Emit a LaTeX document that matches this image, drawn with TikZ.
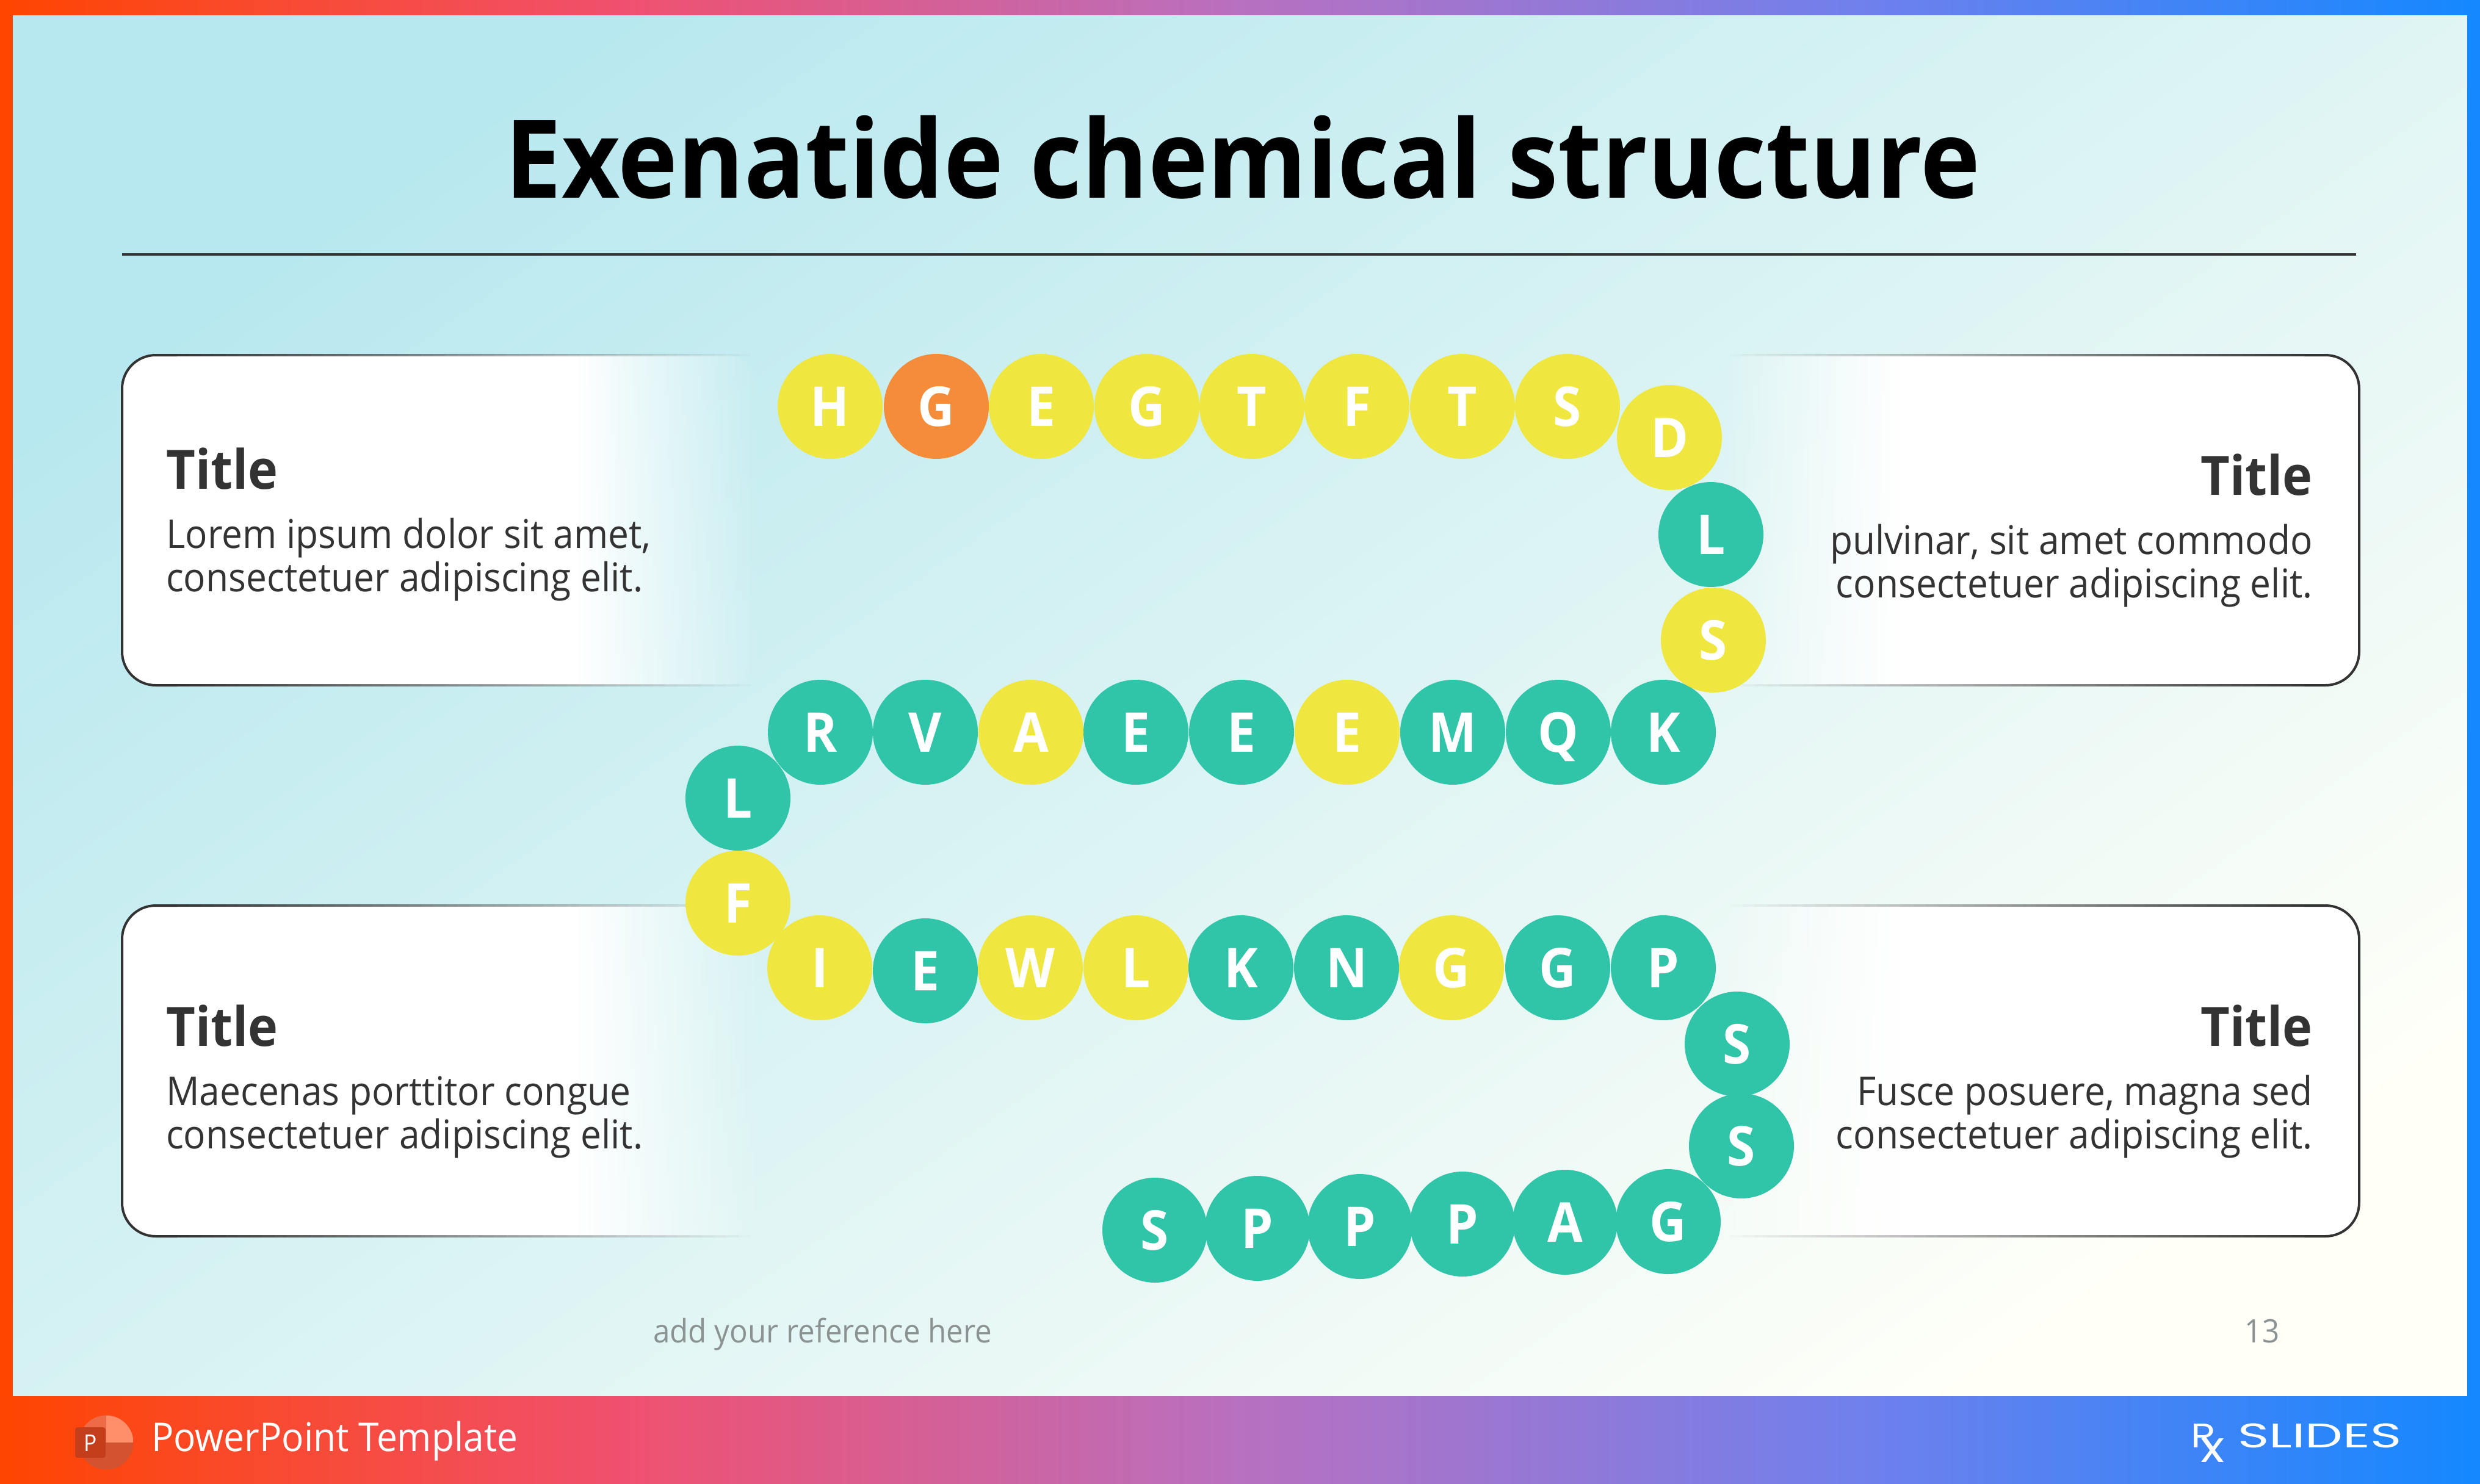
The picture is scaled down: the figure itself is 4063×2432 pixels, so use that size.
\documentclass[tikz,border=0pt]{standalone}
\usepackage{fontspec}
\setmainfont[FakeStretch=0.93]{Open Sans}
\newfontfamily\logofont{Poppins}
\usetikzlibrary{fadings}
\definecolor{amY}{HTML}{F0E640}
\definecolor{amT}{HTML}{30C4A8}
\definecolor{amO}{HTML}{F58C3A}
\definecolor{ink}{HTML}{333333}
\definecolor{barA}{HTML}{FF4500}
\definecolor{barB}{HTML}{F0506E}
\definecolor{barC}{HTML}{B870C0}
\definecolor{barD}{HTML}{7080EC}
\definecolor{barE}{HTML}{1488FF}
\definecolor{bgA}{HTML}{B8E8EF}
\definecolor{bgM}{HTML}{E6F4F2}
\definecolor{bgB}{HTML}{FFFFF8}
\definecolor{footgray}{HTML}{8A9292}
\definecolor{icA}{HTML}{FF8F6B}
\definecolor{icB}{HTML}{ED6C47}
\definecolor{icC}{HTML}{D35230}
\definecolor{icD}{HTML}{C43E1C}
\pgfdeclarehorizontalshading{barshade}{100bp}{
 color(0bp)=(barA); color(25bp)=(barA); color(37.5bp)=(barB); color(50bp)=(barC); color(62.5bp)=(barD); color(75bp)=(barE); color(100bp)=(barE)}
\tikzfading[name=fadeR,left color=transparent!0,right color=transparent!100]
\tikzfading[name=fadeL,left color=transparent!100,right color=transparent!0]
\tikzset{x=1pt,y=-1pt,
 amino/.style={circle,minimum size=172pt,inner sep=0pt,text=white,font=\fontsize{90}{90}\selectfont\bfseries,text height=64pt,text depth=0pt},
 resY/.style={amino,fill=amY},
 resT/.style={amino,fill=amT},
 resO/.style={amino,fill=amO},
 ttl/.style={inner sep=0pt,text=ink,font=\fontsize{89}{89}\selectfont\bfseries},
 bdy/.style={inner sep=0pt,text=ink,font=\fontsize{65}{71}\selectfont},
 foot/.style={anchor=base,inner sep=0pt,text=footgray,font=\fontsize{53}{53}\selectfont},
 logo/.style={anchor=base west,inner sep=0pt,text=white},
}
\begin{document}
\begin{tikzpicture}
\useasboundingbox (0,0) rectangle (4063,2432);
\shade[left color=bgA,middle color=bgM,right color=bgB,shading angle=35] (0,0) rectangle (4063,2432);
\shade[shading=barshade] (0,0) rectangle (4063,25);
\shade[shading=barshade] (0,2288) rectangle (4063,2432);
\fill[barA] (0,0) rectangle (21,2288);
\fill[barE] (4042,0) rectangle (4063,2288);
\node[anchor=base,inner sep=0pt,font=\fontsize{178}{178}\selectfont\bfseries] (title) at (2036,324) {Exenatide chemical structure};
\coordinate (rl) at (200,417); \coordinate (rr) at (3860,417);
\draw[ink,line width=4pt] (rl) -- (rr);
% cards
\foreach \yt/\yb in {582/1123,1484/2026}{
 \begin{scope}
  \clip[rounded corners=55pt] (200,\yt) rectangle (1244,\yb);
  \fill[white] (200,\yt) rectangle (946,\yb);
  \fill[white,path fading=fadeR] (946,\yt) rectangle (1244,\yb);
 \end{scope}
 \draw[ink,line width=4pt,rounded corners=55pt] (290,\yt) -- (200,\yt) -- (200,\yb) -- (290,\yb);
 \begin{scope}
  \clip[rounded corners=55pt] (2815,\yt) rectangle (3865,\yb);
  \fill[white] (3113,\yt) rectangle (3865,\yb);
  \fill[white,path fading=fadeL] (2815,\yt) rectangle (3113,\yb);
 \end{scope}
 \draw[ink,line width=4pt,rounded corners=55pt] (3775,\yt) -- (3865,\yt) -- (3865,\yb) -- (3775,\yb);
 \foreach \k in {0,...,46}{
  \pgfmathsetmacro\op{1-(\k+1)/48}
  \fill[ink,opacity=\op] ({290+20*\k},\yt-2) rectangle ({310+20*\k},\yt+2);
  \fill[ink,opacity=\op] ({290+20*\k},\yb-2) rectangle ({310+20*\k},\yb+2);
  \fill[ink,opacity=\op] ({3775-20*\k},\yt-2) rectangle ({3755-20*\k},\yt+2);
  \fill[ink,opacity=\op] ({3775-20*\k},\yb-2) rectangle ({3755-20*\k},\yb+2);
 }
}
\node[ttl,anchor=base west] (t1) at (272,801) {Title};
\node[bdy,anchor=base west] (b1a) at (272,898) {Lorem ipsum dolor sit amet,};
\node[bdy,anchor=base west] (b1b) at (272,969) {consectetuer adipiscing elit.};
\node[ttl,anchor=base east] (t2) at (3789,811) {Title};
\node[bdy,anchor=base east] (b2a) at (3789,908) {pulvinar, sit amet commodo};
\node[bdy,anchor=base east] (b2b) at (3789,979) {consectetuer adipiscing elit.};
\node[ttl,anchor=base west] (t3) at (272,1714) {Title};
\node[bdy,anchor=base west] (b3a) at (272,1811) {Maecenas porttitor congue};
\node[bdy,anchor=base west] (b3b) at (272,1882) {consectetuer adipiscing elit.};
\node[ttl,anchor=base east] (t4) at (3789,1714) {Title};
\node[bdy,anchor=base east] (b4a) at (3789,1811) {Fusce posuere, magna sed};
\node[bdy,anchor=base east] (b4b) at (3789,1882) {consectetuer adipiscing elit.};
% residues
\foreach \n/\s/\l/\x/\y in {a1/resY/H/1360/666,a2/resO/G/1534/666,a3/resY/E/1706/666,a4/resY/G/1879/666,a5/resY/T/2051/666,a6/resY/F/2223/666,a7/resY/T/2396/666,a8/resY/S/2568/666,a9/resY/D/2735/717,a10/resT/L/2803/876,
 b1/resT/K/2725/1200,b2/resT/Q/2553/1200,b3/resT/M/2380/1200,b4/resY/E/2207/1200,b5/resT/E/2034/1200,b6/resT/E/1861/1200,b7/resY/A/1689/1200,b8/resT/V/1516/1200,b9/resT/R/1344/1200,a11/resY/S/2807/1049,
 c1/resT/L/1209/1308,
 d1/resY/I/1343/1586,d2/resT/E/1516/1591,d3/resY/W/1688/1586,d4/resY/L/1861/1586,d5/resT/K/2033/1586,d6/resT/N/2206/1586,d7/resY/G/2378/1586,d8/resT/G/2552/1586,d9/resT/P/2725/1586,c2/resY/F/1209/1480,
 f1/resT/S/1892/2016,f2/resT/P/2060/2013,f3/resT/P/2228/2010,f4/resT/P/2396/2006,f5/resT/A/2564/2003,f6/resT/G/2733/2002,e1/resT/S/2846/1711,e2/resT/S/2853/1878}
 {\node[\s] (\n) at (\x,\y) {\l};}
\node[foot,anchor=base west] (ref) at (1070,2200) {add your reference here};
\node[foot] (pg) at (3706,2200) {13};
% footer icon
\begin{scope}
 \clip (174,2364) circle[radius=44.5];
 \fill[icB] (129,2319) rectangle (174,2364);
 \fill[icA] (174,2319) rectangle (219,2364);
 \fill[icC] (129,2364) rectangle (219,2409);
\end{scope}
\fill[icD,rounded corners=4pt] (123,2339) rectangle (173,2389);
\node[anchor=base,inner sep=0pt,text=white,font=\fontsize{38}{38}\selectfont] (pp) at (148,2378) {P};
\node[anchor=base west,inner sep=0pt,text=white,font=\fontsize{65}{65}\selectfont] (ft) at (248,2378) {PowerPoint Template};
% logo
\node[logo] (lr) at (3589,2372) {\scalebox{1.2}[1]{\logofont\fontsize{56}{56}\selectfont R}};
\node[logo] (lx) at (3605,2396) {\scalebox{1.15}[1]{\logofont\fontsize{71}{71}\selectfont x}};
\node[logo] (sl) at (3666,2372) {\scalebox{1.56}[1]{\logofont\fontsize{56}{56}\selectfont SLIDES}};
\end{tikzpicture}
\end{document}
